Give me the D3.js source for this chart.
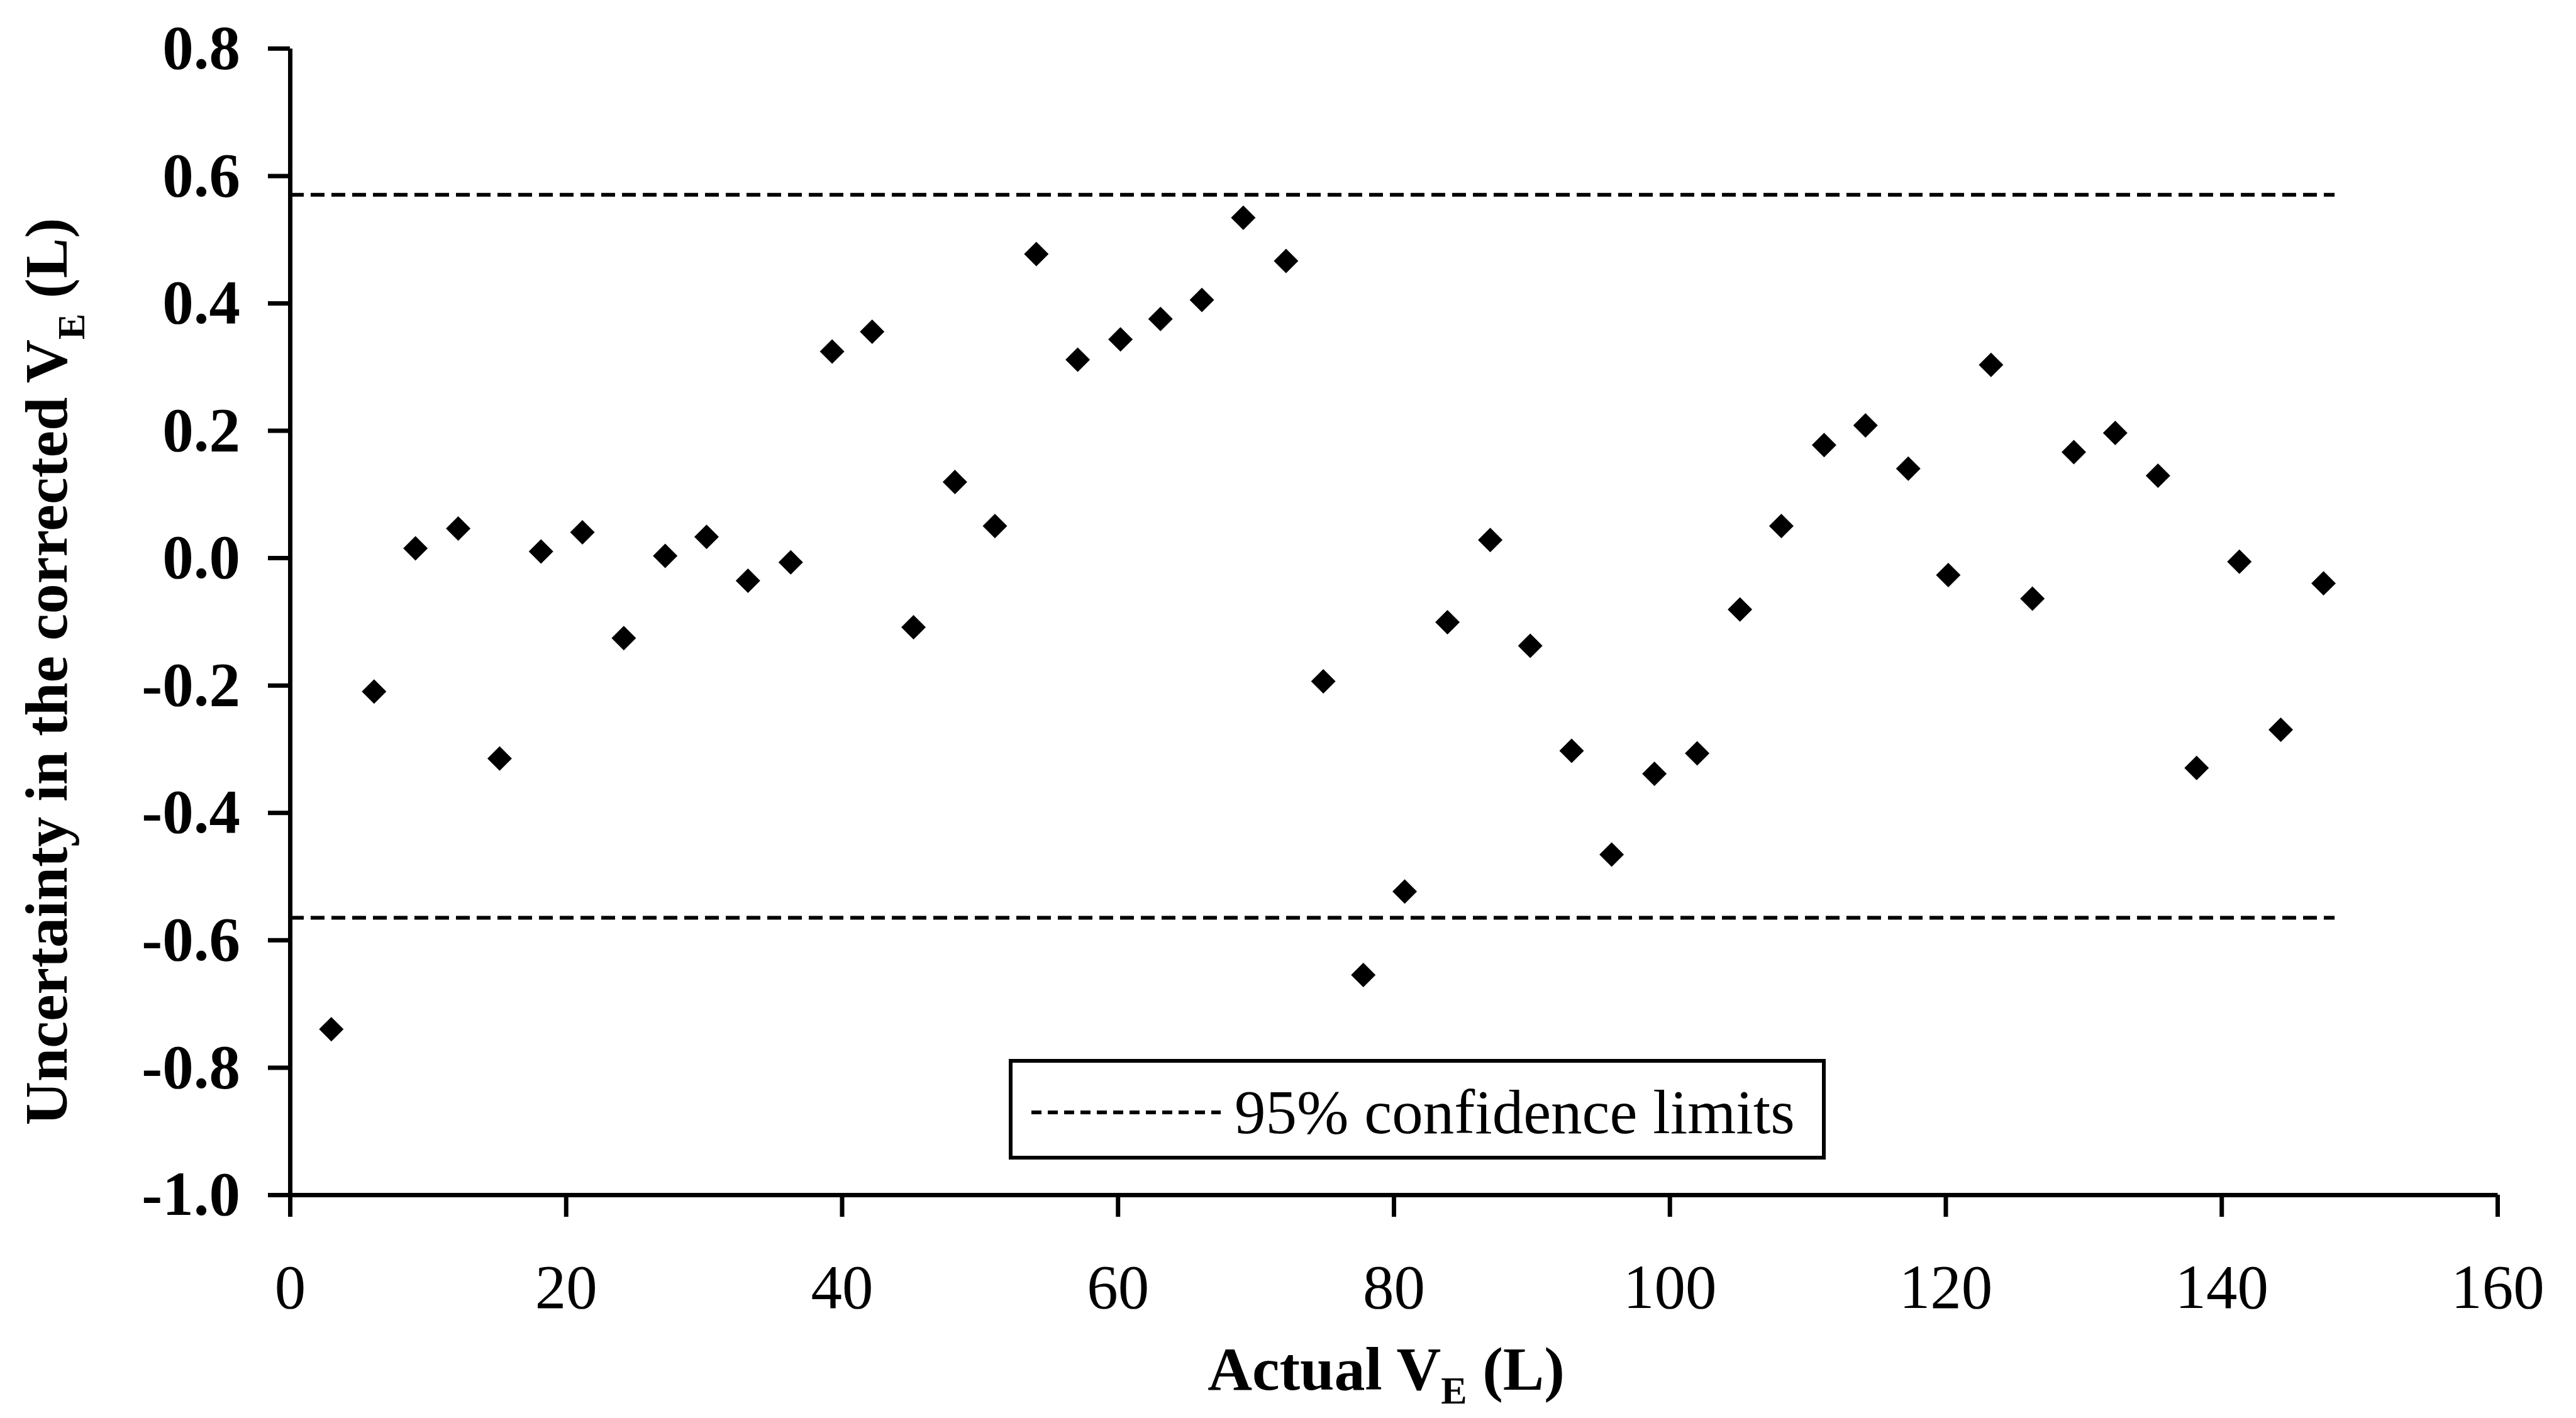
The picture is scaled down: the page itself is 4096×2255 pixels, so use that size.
<!DOCTYPE html>
<html>
<head>
<meta charset="utf-8">
<script src="https://cdn.jsdelivr.net/npm/d3@7"></script>
<style>
  html, body { margin: 0; padding: 0; background: #fff; overflow: hidden; }
</style>
</head>
<body>
<svg id="chart" width="4096" height="2255"></svg>
<script>
// Actual expired volume V_E (L) for each test
const volume = [
  3.0, 6.1, 9.1, 12.2, 15.2, 18.2, 21.2, 24.2, 27.2, 30.2,
  33.2, 36.3, 39.3, 42.2, 45.2, 48.2, 51.1, 54.1, 57.1, 60.2,
  63.1, 66.1, 69.1, 72.2, 74.9, 77.8, 80.8, 83.9, 87.0, 89.9,
  92.9, 95.8, 98.9, 102.0, 105.1, 108.1, 111.2, 114.2, 117.3, 120.2,
  123.3, 126.3, 129.3, 132.3, 135.4, 138.2, 141.3, 144.3, 147.4
];
// Uncertainty in the corrected V_E (L)
const uncertainty = [
  -0.74, -0.21, 0.015, 0.046, -0.315, 0.010, 0.040, -0.126, 0.003, 0.033,
  -0.036, -0.007, 0.324, 0.355, -0.109, 0.119, 0.050, 0.477, 0.311, 0.343,
  0.375, 0.405, 0.534, 0.466, -0.194, -0.655, -0.524, -0.101, 0.028, -0.138,
  -0.303, -0.466, -0.339, -0.307, -0.081, 0.050, 0.177, 0.208, 0.140, -0.027,
  0.303, -0.064, 0.166, 0.196, 0.129, -0.330, -0.006, -0.270, -0.040
];
const xTicks = [0, 20, 40, 60, 80, 100, 120, 140, 160];
const yTicks = [0.8, 0.6, 0.4, 0.2, 0.0, -0.2, -0.4, -0.6, -0.8, -1.0];
const confidenceLimits = [0.57, -0.565];
const limitExtent = [0, 148.2];
const legendLabel = "95% confidence limits";

const svg = d3.select("#chart");
const font = '"Liberation Serif", "Times New Roman", serif';

const plot = { left: 461, right: 3971, top: 76.8, bottom: 1900 };
const x = d3.scaleLinear().domain([0, 160]).range([plot.left, plot.right]);
const y = d3.scaleLinear().domain([-1.0, 0.8]).range([plot.bottom, plot.top]);

const axisStroke = 7;
const tickLen = 35;
const tickFont = 99;

// X axis
const gx = svg.append("g")
  .attr("transform", `translate(0,${y(-1.0)})`)
  .call(d3.axisBottom(x).tickValues(xTicks).tickSize(tickLen).tickSizeOuter(0)
    .tickFormat(d3.format("d")));
gx.select(".domain").attr("stroke", "#000").attr("stroke-width", axisStroke);
gx.selectAll(".tick line").attr("stroke", "#000").attr("stroke-width", axisStroke);
gx.selectAll(".tick text")
  .attr("y", 110).attr("dy", "0.71em")
  .attr("font-family", font).attr("font-size", tickFont).attr("fill", "#000");

// Y axis
const fmtY = v => d3.format(".1f")(v).replace("\u2212", "-");
const gy = svg.append("g")
  .attr("transform", `translate(${x(0)},0)`)
  .call(d3.axisLeft(y).tickValues(yTicks).tickSize(tickLen).tickSizeOuter(0)
    .tickFormat(fmtY));
gy.select(".domain").attr("stroke", "#000").attr("stroke-width", axisStroke);
gy.selectAll(".tick line").attr("stroke", "#000").attr("stroke-width", axisStroke);
gy.selectAll(".tick text")
  .attr("x", -79).attr("dy", "0.32em")
  .attr("font-family", font).attr("font-size", tickFont)
  .attr("font-weight", "bold").attr("fill", "#000");

// 95% confidence limit lines
const dash = "22,11";
svg.append("g").selectAll("line")
  .data(confidenceLimits)
  .join("line")
  .attr("x1", x(limitExtent[0])).attr("x2", x(limitExtent[1]))
  .attr("y1", d => y(d)).attr("y2", d => y(d))
  .attr("stroke", "#000").attr("stroke-width", 6)
  .attr("stroke-dasharray", dash);

// Data points (filled diamonds)
const diamond = d3.symbol().type(d3.symbolSquare).size(760);
svg.append("g").selectAll("path")
  .data(volume.map((v, i) => [v, uncertainty[i]]))
  .join("path")
  .attr("d", diamond)
  .attr("transform", d => `translate(${x(d[0])},${y(d[1])}) rotate(45)`)
  .attr("fill", "#000");

// Axis titles
const xTitle = svg.append("text")
  .attr("x", (plot.left + plot.right) / 2 - 12)
  .attr("y", 2210)
  .attr("text-anchor", "middle")
  .attr("font-family", font).attr("font-size", 98).attr("font-weight", "bold")
  .attr("fill", "#000");
xTitle.append("tspan").text("Actual V");
xTitle.append("tspan").attr("font-size", 62).attr("dy", 22).text("E");
xTitle.append("tspan").attr("dy", -22).text(" (L)");

const yTitle = svg.append("text")
  .attr("transform", `translate(106,1068) rotate(-90)`)
  .attr("text-anchor", "middle")
  .attr("font-family", font).attr("font-size", 96).attr("font-weight", "bold")
  .attr("fill", "#000");
yTitle.append("tspan").text("Uncertainty in the corrected V");
yTitle.append("tspan").attr("font-size", 62).attr("dy", 28).text("E");
yTitle.append("tspan").attr("dy", -28).text(" (L)");

// Legend
const legend = svg.append("g").attr("transform", "translate(1607,1687)");
legend.append("rect")
  .attr("x", 0).attr("y", 0).attr("width", 1293).attr("height", 154)
  .attr("fill", "#fff").attr("stroke", "#000").attr("stroke-width", 6);
legend.append("line")
  .attr("x1", 33).attr("x2", 334).attr("y1", 82).attr("y2", 82)
  .attr("stroke", "#000").attr("stroke-width", 6)
  .attr("stroke-dasharray", "16,10");
legend.append("text")
  .attr("x", 356).attr("y", 115)
  .attr("font-family", font).attr("font-size", 99).attr("fill", "#000")
  .text(legendLabel);
</script>
</body>
</html>
